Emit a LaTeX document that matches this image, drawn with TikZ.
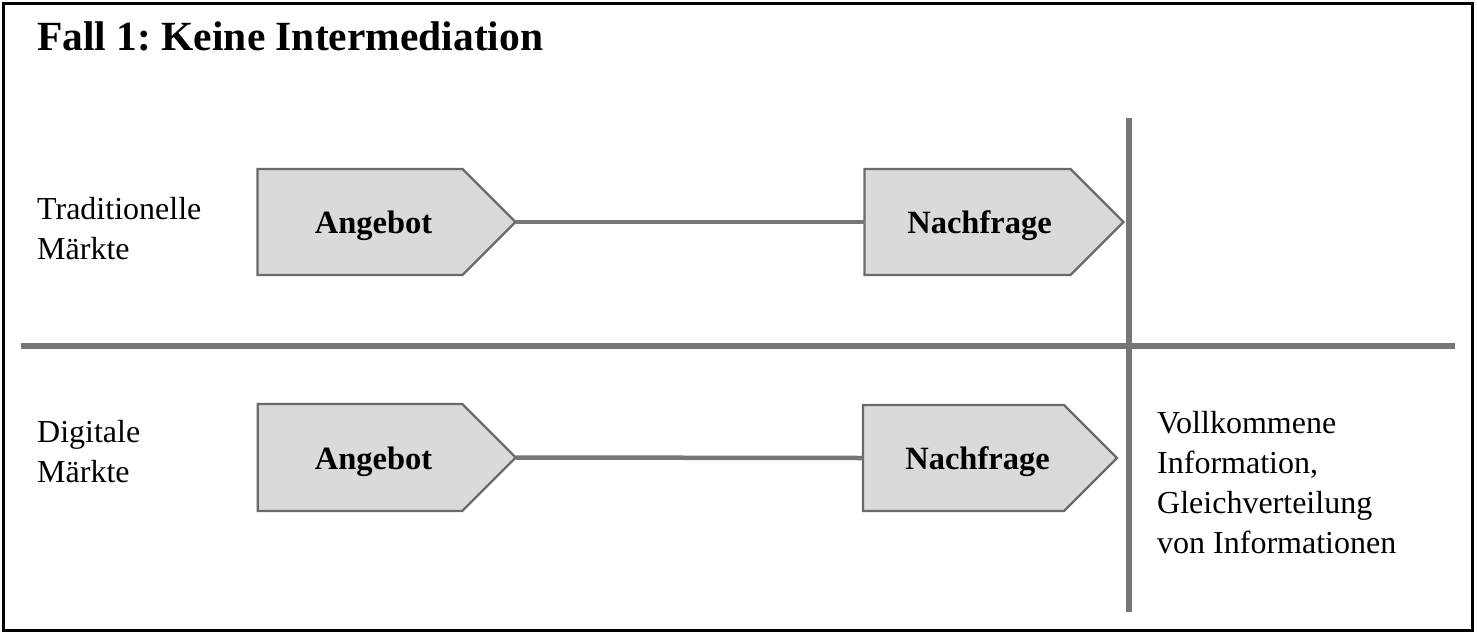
\documentclass[tikz,border=0pt]{standalone}
\usepackage{fontspec}
\setmainfont{Liberation Serif}
\usetikzlibrary{shapes.symbols}
\definecolor{boxfill}{HTML}{DADADA}
\definecolor{boxline}{HTML}{6A6A6A}
\definecolor{rulegray}{HTML}{767676}
\tikzset{
  arrowbox/.style={shape=signal, signal to=east, signal pointer angle=90,
    fill=boxfill, draw=boxline, line width=2.2pt, miter limit=4, inner sep=0pt, outer sep=0pt},
  boxtext/.style={font=\fontsize{32.5}{38}\selectfont\bfseries, anchor=base, inner sep=0pt},
  sidetext/.style={font=\fontsize{32}{40}\selectfont, align=left, inner sep=0pt},
  conn/.style={draw=rulegray, line width=4.5pt},
  divider/.style={draw=rulegray, line width=5.5pt},
}
\begin{document}
\frenchspacing
\begin{tikzpicture}[x=1pt,y=-1pt]
\useasboundingbox (0,0) rectangle (1477,635);
\draw[line width=3pt] (3.5,3.5) rectangle (1472.5,630.5);
\node[font=\fontsize{41.5}{48}\selectfont\bfseries, anchor=base west, inner sep=0pt] (title) at (37,50) {\frenchspacing Fall 1: Keine Intermediation};
% dividers
\coordinate (hl) at (21,346);
\coordinate (hr) at (1455,346);
\coordinate (vt) at (1129,118);
\coordinate (vb) at (1129,612);
\draw[divider] (hl) -- (hr);
\draw[divider] (vt) -- (vb);
% side labels
\node[sidetext, anchor=north west] (trad) at (37,197) {Traditionelle\\Märkte};
\node[sidetext, anchor=north west] (dig) at (37,420) {Digitale\\Märkte};
\node[sidetext, anchor=north west] (info) at (1157,411) {Vollkommene\\Information,\\Gleichverteilung\\von Informationen};
% top row
\node[arrowbox, minimum width=258, minimum height=106] (a1) at (360,222) {};
\node[arrowbox, minimum width=259, minimum height=106] (n1) at (967.5,222) {};
\node[boxtext] (a1t) at (373.5,233) {Angebot};
\node[boxtext] (n1t) at (979.5,233) {Nachfrage};
\draw[conn] (a1.east) -- (n1.west);
% bottom row
\node[arrowbox, minimum width=258, minimum height=107] (a2) at (360,457.5) {};
\node[arrowbox, minimum width=254, minimum height=106] (n2) at (963.5,458) {};
\node[boxtext] (a2t) at (373.5,469) {Angebot};
\node[boxtext] (n2t) at (977.5,469) {Nachfrage};
\draw[conn] (a2.east) -- (n2.west);
\end{tikzpicture}
\end{document}
